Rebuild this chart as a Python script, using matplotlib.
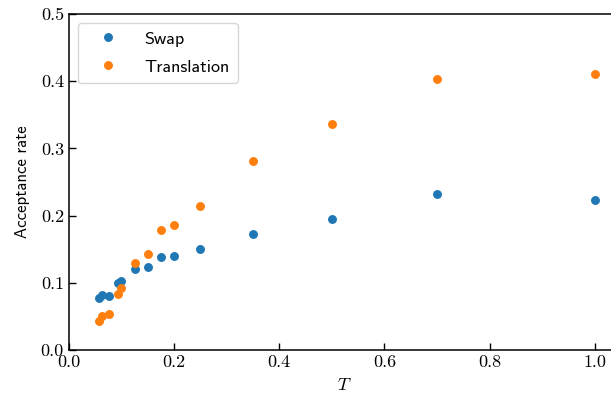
import matplotlib
matplotlib.use('Agg')
from matplotlib import pyplot as plt

# temperatures and acceptance rates for the two move types
temps = [0.057, 0.063, 0.0765, 0.093, 0.1, 0.125, 0.15, 0.175, 0.2, 0.25, 0.35, 0.5, 0.7, 1.0]
swap_rate = [0.078, 0.082, 0.081, 0.099, 0.103, 0.120, 0.124, 0.139, 0.140, 0.150, 0.173, 0.195, 0.232, 0.223]
trans_rate = [0.043, 0.050, 0.053, 0.083, 0.092, 0.130, 0.143, 0.179, 0.186, 0.214, 0.281, 0.337, 0.403, 0.411]

plt.rcParams['mathtext.fontset'] = 'cm'
plt.rcParams['font.family'] = 'cmr10'
plt.rcParams['axes.formatter.use_mathtext'] = True
plt.rcParams['axes.unicode_minus'] = False


def main():
    fig = plt.figure(figsize=(6.11, 4.0), dpi=100)
    ax = fig.add_axes([0.1125, 0.125, 0.902, 0.84])
    ax.plot(temps, swap_rate, 'o', color='#1f77b4', markersize=5.4, label='Swap')
    ax.plot(temps, trans_rate, 'o', color='#ff7f0e', markersize=5.4, label='Translation')

    ax.set_xlim(0, 1.0475)
    ax.set_ylim(0, 0.5)
    ax.set_xticks([0.0, 0.2, 0.4, 0.6, 0.8, 1.0])
    ax.set_yticks([0.0, 0.1, 0.2, 0.3, 0.4, 0.5])
    ax.set_xticklabels(['0.0', '0.2', '0.4', '0.6', '0.8', '1.0'])
    ax.set_yticklabels(['0.0', '0.1', '0.2', '0.3', '0.4', '0.5'])
    ax.tick_params(direction='in', length=5, width=1, labelsize=13)
    for sp in ax.spines.values():
        sp.set_linewidth(1.1)

    ax.set_xlabel('$T$', fontsize=13, labelpad=5)
    ax.set_ylabel('Acceptance rate', fontsize=12, family='cmss10', labelpad=8)
    ax.legend(loc='upper left', prop={'family': 'cmss10', 'size': 13},
              handlelength=2.5, handletextpad=0.75, labelspacing=0.68,
              borderpad=0.45)

    fig.savefig('out.png', dpi=100)


if __name__ == '__main__':
    main()
